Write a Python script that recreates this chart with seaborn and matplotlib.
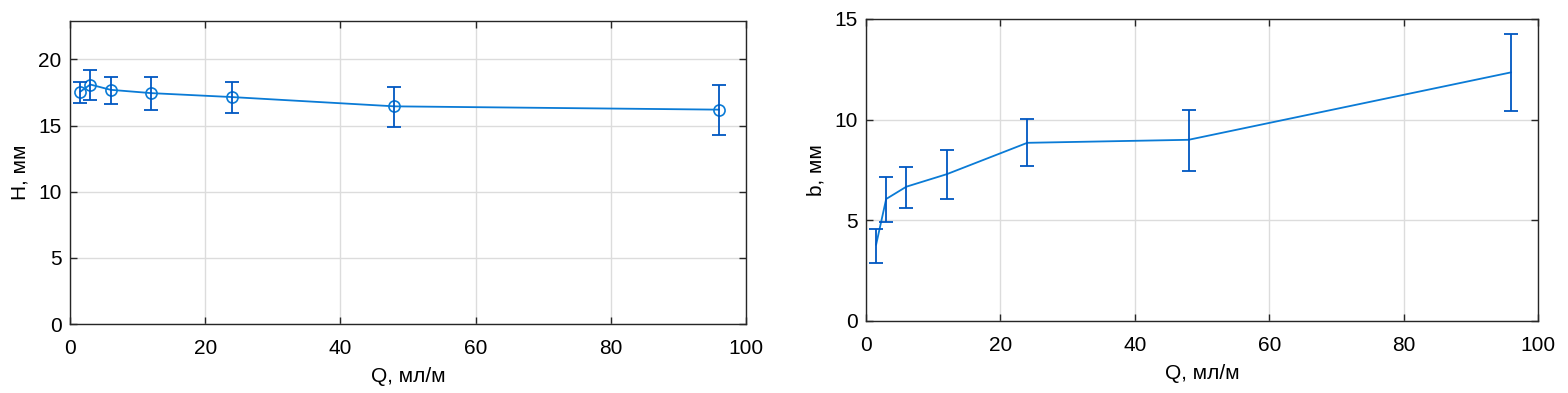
import matplotlib
matplotlib.use("Agg")
import matplotlib.pyplot as plt
import seaborn as sns
import pandas as pd

Q = [1.5, 3, 6, 12, 24, 48, 96]
H = [17.55, 18.1, 17.7, 17.45, 17.15, 16.45, 16.2]
H_lo = [16.7, 16.9, 16.6, 16.2, 15.95, 14.9, 14.3]
H_hi = [18.3, 19.2, 18.7, 18.7, 18.3, 17.9, 18.05]
b = [3.78, 6.06, 6.67, 7.29, 8.85, 9.0, 12.35]
b_lo = [2.87, 4.93, 5.6, 6.05, 7.7, 7.47, 10.42]
b_hi = [4.55, 7.14, 7.67, 8.51, 10.05, 10.5, 14.25]

xlabel = "Q, мл/м"
ylabel_left = "H, мм"
ylabel_right = "b, мм"

sns.set_theme(style="white")
plt.rcParams['font.family'] = ['Liberation Sans', 'DejaVu Sans']

fig = plt.figure(figsize=(15.68, 3.93), dpi=100)
ax1 = fig.add_axes([70/1568, 1-324/393, (746-70)/1568, (324-21)/393])
ax2 = fig.add_axes([866/1568, 1-321/393, (1538-866)/1568, (321-19)/393])

line_c = "#0A7BD6"
err_c = "#0057C2"

df1 = pd.DataFrame({"Q": Q, "H": H})
df2 = pd.DataFrame({"Q": Q, "b": b})

sns.lineplot(data=df1, x="Q", y="H", ax=ax1, color=line_c, lw=1.3,
             marker="o", markersize=8, markerfacecolor="none",
             markeredgecolor=line_c, markeredgewidth=1.2, zorder=3)
ax1.errorbar(Q, H, yerr=[[h - l for h, l in zip(H, H_lo)], [u - h for h, u in zip(H, H_hi)]],
             fmt="none", ecolor=err_c, elinewidth=1.3, capsize=5, capthick=1.3, zorder=4)

sns.lineplot(data=df2, x="Q", y="b", ax=ax2, color=line_c, lw=1.3, zorder=3)
ax2.errorbar(Q, b, yerr=[[v - l for v, l in zip(b, b_lo)], [u - v for v, u in zip(b, b_hi)]],
             fmt="none", ecolor=err_c, elinewidth=1.3, capsize=5, capthick=1.3, zorder=4)

for ax, yl, ylim, yt in [(ax1, ylabel_left, (0, 22.9), [0, 5, 10, 15, 20]),
                         (ax2, ylabel_right, (0, 15), [0, 5, 10, 15])]:
    ax.set_xlim(0, 100)
    ax.set_ylim(*ylim)
    ax.set_xticks([0, 20, 40, 60, 80, 100])
    ax.set_yticks(yt)
    ax.grid(True, color="#DCDCDC", lw=1)
    ax.set_axisbelow(True)
    ax.tick_params(direction="in", length=5, width=1, colors="#262626",
                   labelsize=15, top=True, right=True, bottom=True, left=True,
                   labelcolor="black")
    ax.tick_params(axis="x", pad=11)
    ax.tick_params(axis="y", pad=6)
    for s in ax.spines.values():
        s.set_color("#262626")
        s.set_linewidth(1)
        s.set_visible(True)
    ax.set_xlabel(xlabel, fontsize=15, labelpad=6, color="black")
    ax.set_ylabel(yl, fontsize=15, labelpad=6, color="black")

fig.savefig("out.png", dpi=100)
